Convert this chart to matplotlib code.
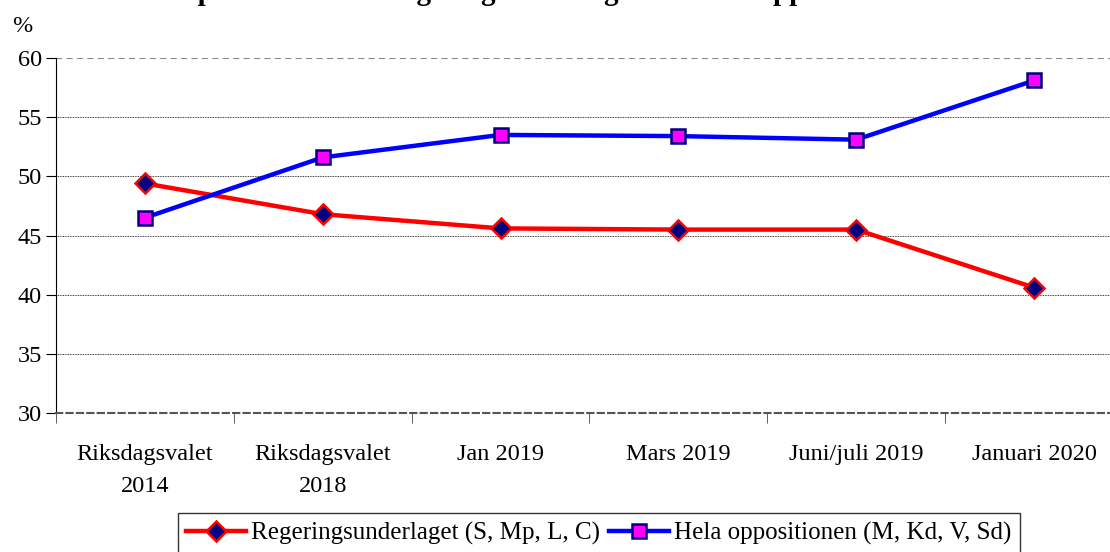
import matplotlib.pyplot as plt
from matplotlib.ticker import FixedLocator

categories = ["Riksdagsvalet\n2014", "Riksdagsvalet\n2018", "Jan 2019", "Mars 2019",
              "Juni/juli 2019", "Januari 2020"]
regering = [49.4, 46.8, 45.6, 45.5, 45.5, 40.6]
opposition = [46.5, 51.6, 53.5, 53.4, 53.1, 58.1]
yticks = [30, 35, 40, 45, 50, 55, 60]

plt.rcParams['font.family'] = ['Liberation Serif', 'DejaVu Serif']

W, H = 1110, 552
fig = plt.figure(figsize=(W / 100, H / 100), dpi=100)
# plot area in pixels: left 56, right 1123 (past the edge), top 58, bottom 413
ax = fig.add_axes([56 / W, 1 - 413 / H, (1123 - 56) / W, (413 - 58) / H])

x = list(range(len(categories)))
ax.plot(x, regering, color='red', lw=3.2, marker='D', ms=10, mfc='#000080', mec='red', mew=1.8,
        label='Regeringsunderlaget (S, Mp, L, C)', zorder=3, clip_on=False)
ax.plot(x, opposition, color='blue', lw=3.2, marker='s', ms=10, mfc='#ff00ff', mec='#000080', mew=1.8,
        label='Hela oppositionen (M, Kd, V, Sd)', zorder=3, clip_on=False)

ax.set_xlim(-0.5, len(categories) - 0.5)
ax.set_ylim(30, 60)
ax.set_yticks(yticks)
ax.set_xticks(x)
ax.set_xticklabels(categories, fontsize=17.5, linespacing=1.7)
ax.tick_params(axis='x', length=0, pad=22)
ax.xaxis.set_minor_locator(FixedLocator([i - 0.5 for i in range(len(categories) + 1)]))
ax.tick_params(axis='x', which='minor', length=7, direction='out', color='#444444')
ax.tick_params(axis='y', labelsize=17.5, length=7, direction='out', pad=3)

for v in yticks[1:-1]:
    ax.axhline(v, color='black', lw=0.6, ls=(0, (1, 1)), zorder=1)
ax.axhline(60, color='#888888', lw=1.5, ls=(0, (3, 2)), zorder=1)

for s in ['top', 'right']:
    ax.spines[s].set_visible(False)
ax.spines['bottom'].set_linestyle((0, (3, 2)))
ax.spines['bottom'].set_color('#555555')
ax.spines['bottom'].set_linewidth(1.5)
ax.spines['left'].set_color('black')

fig.text(12 / W, 1 - 32 / H, '%', fontsize=17.5, ha='left', va='baseline')
# title sits above the top edge, only descenders show, as in the original
fig.text(175 / W, 1.0, 'Opinionsstöd för regeringsunderlaget och hela oppositionen',
         fontsize=21, fontweight='bold', ha='left', va='baseline')

leg = fig.legend(loc='upper center', bbox_to_anchor=(599 / W, 1 - 513 / H), ncol=2,
                 fontsize=18, frameon=True, fancybox=False, edgecolor='black',
                 handlelength=2.4, handletextpad=0.2, columnspacing=0.35,
                 borderpad=0.35, borderaxespad=0)
leg.get_frame().set_linewidth(1.0)

fig.savefig('out.png', dpi=100)
